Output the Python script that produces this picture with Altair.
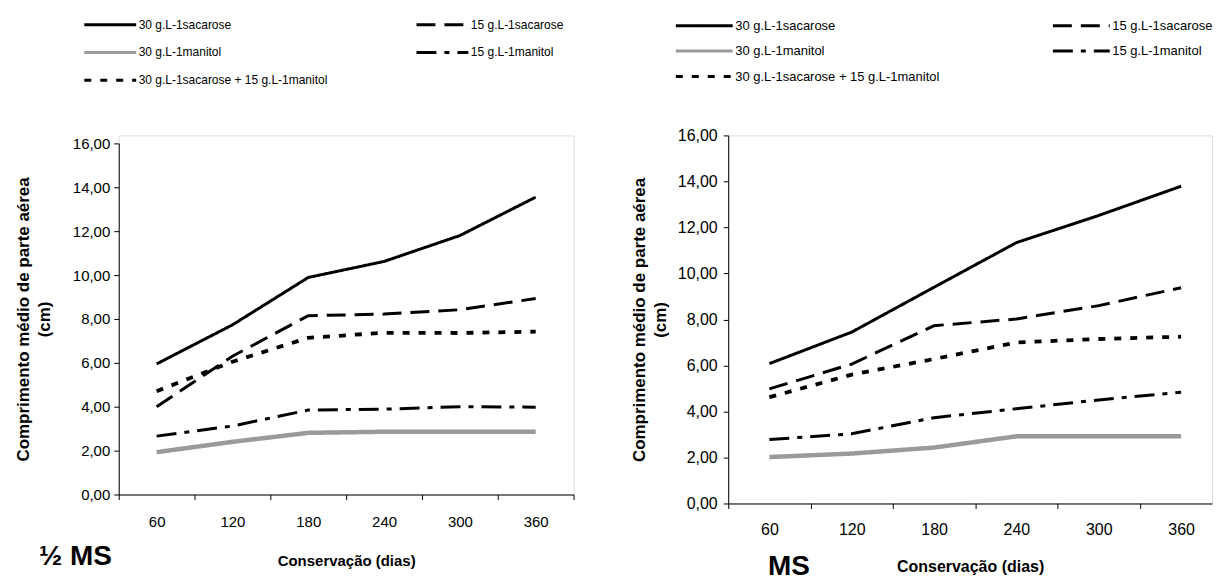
import altair as alt
import pandas as pd

# ---------------- data ----------------
dias = [60, 120, 180, 240, 300, 360]
series = [
    "30 g.L-1sacarose",
    "15 g.L-1sacarose",
    "30 g.L-1manitol",
    "15 g.L-1manitol",
    "30 g.L-1sacarose + 15 g.L-1manitol",
]

# 1/2 MS medium
meio_sac30 = [5.95, 7.73, 9.89, 10.62, 11.80, 13.55]
meio_sac15 = [4.00, 6.30, 8.15, 8.22, 8.42, 8.93]
meio_man30 = [1.93, 2.40, 2.81, 2.86, 2.86, 2.86]
meio_man15 = [2.66, 3.12, 3.85, 3.89, 4.00, 3.98]
meio_mix = [4.71, 6.05, 7.14, 7.37, 7.36, 7.42]

# MS medium
ms_sac30 = [6.08, 7.45, 9.40, 11.34, 12.52, 13.79]
ms_sac15 = [4.98, 6.06, 7.73, 8.02, 8.60, 9.38]
ms_man30 = [2.02, 2.17, 2.43, 2.92, 2.92, 2.92]
ms_man15 = [2.78, 3.03, 3.73, 4.12, 4.50, 4.84]
ms_mix = [4.62, 5.60, 6.28, 7.00, 7.15, 7.25]

y_ticks = [0, 2, 4, 6, 8, 10, 12, 14, 16]


def long_table(arrays):
    rows = []
    for name, arr in zip(series, arrays):
        for d, v in zip(dias, arr):
            rows.append({"serie": name, "dias": d, "comprimento": v})
    return pd.DataFrame(rows)


colors = ["#000000", "#000000", "#9a9a9a", "#000000", "#000000"]
dashes = [[1, 0], [19, 9], [1, 0], [20, 8, 5, 8], [7, 9]]

FONT = "Liberation Sans"

stroke_width = {
    "condition": [
        {"test": "datum.serie === '30 g.L-1manitol'", "value": 4.5},
        {"test": "datum.serie === '30 g.L-1sacarose + 15 g.L-1manitol'", "value": 3.8},
    ],
    "value": 3,
}


def panel(arrays, width, height, y_range, x_domain, edges, c):
    df = long_table(arrays)
    xs = alt.Scale(domain=x_domain, nice=False, zero=False)
    if y_range is not None:
        ys = alt.Scale(domain=[0, 16], nice=False, zero=True, range=y_range)
    else:
        ys = alt.Scale(domain=[0, 16], nice=False, zero=True)

    leg = alt.Legend(
        orient="none", legendX=c["lx"], legendY=c["ly"], columns=2, direction="horizontal",
        title=None, symbolType="stroke", symbolSize=c["ssize"], symbolStrokeWidth=3,
        clipHeight=14, rowPadding=c["rowpad"], columnPadding=c["colpad"],
        labelFont=FONT, labelFontSize=c["lfs"], labelColor="black",
        labelOffset=1, labelLimit=500, padding=0,
    )

    lines = alt.Chart(df).mark_line(strokeCap="butt").encode(
        x=alt.X("dias:Q", scale=xs, axis=alt.Axis(
            values=dias, ticks=False, tickSize=0, labelPadding=c["xlp"],
            labelFont=FONT, labelFontSize=c["xfs"], labelColor="black",
            domainColor="black", domainWidth=1, grid=False,
            title="Conservação (dias)", titleFont=FONT, titleFontSize=c["xtfs"],
            titleFontWeight="bold", titleColor="black", titlePadding=c["xtp"],
        )),
        y=alt.Y("comprimento:Q", scale=ys, axis=alt.Axis(
            values=y_ticks, format=".2f", labelExpr="replace(datum.label, '.', ',')",
            tickSize=5, tickColor="black", labelPadding=c["ylp"],
            labelFont=FONT, labelFontSize=c["yfs"], labelColor="black",
            domainColor="black", domainWidth=1, grid=False,
            title=["Comprimento médio de parte aérea", "(cm)"], titleFont=FONT,
            titleFontSize=17, titleFontWeight="bold", titleColor="black",
            titleLineHeight=21, titlePadding=c["ytp"],
        )),
        color=alt.Color("serie:N", scale=alt.Scale(domain=series, range=colors), legend=leg),
        strokeDash=alt.StrokeDash("serie:N", scale=alt.Scale(domain=series, range=dashes), legend=leg),
        strokeWidth=stroke_width,
    )

    edge_ticks = alt.Chart(df).mark_rule(opacity=0).encode(
        x=alt.X("dias:Q", scale=xs, axis=alt.Axis(
            values=edges, labels=False, title=None, tickSize=5, tickColor="black",
            domain=False, grid=False, orient="bottom",
        )),
    )

    return alt.layer(lines, edge_ticks).resolve_axis(x="independent").properties(
        width=width, height=height,
        title=alt.TitleParams(
            c["label"], orient="bottom", anchor="start", frame="group",
            fontSize=28, fontWeight="bold", font=FONT, color="black",
            offset=c["toff"], dx=c["tdx"],
        ),
    )


left = panel(
    [meio_sac30, meio_sac15, meio_man30, meio_man15, meio_mix],
    width=456, height=360, y_range=[360, 8], x_domain=[30, 390],
    edges=[30, 90, 150, 210, 270, 330, 390],
    c=dict(lx=-36, ly=-118, ssize=2704, rowpad=13.8, colpad=87, lfs=12,
           xlp=20, xfs=15, xtfs=15, xtp=24, ylp=4, yfs=15, ytp=19,
           label="½ MS", toff=-25, tdx=-80),
)

right = panel(
    [ms_sac30, ms_sac15, ms_man30, ms_man15, ms_mix],
    width=485, height=369, y_range=None, x_domain=[30, 382.5],
    edges=[30, 90, 150, 210, 270, 330],
    c=dict(lx=-54, ly=-117, ssize=3249, rowpad=11.5, colpad=112, lfs=13,
           xlp=18, xfs=16, xtfs=16, xtp=21, ylp=6, yfs=16, ytp=8,
           label="MS", toff=-21, tdx=40),
)

chart = alt.hconcat(left, right, spacing=155, bounds="flush").resolve_scale(
    x="independent", y="independent", color="independent", strokeDash="independent"
).resolve_legend(
    color="independent", strokeDash="independent"
).properties(
    padding={"left": 5, "top": 8, "right": 0, "bottom": 0}
).configure_view(stroke=None).configure(font=FONT)

chart.save("out.html", embed_options={"renderer": "svg", "actions": False})
